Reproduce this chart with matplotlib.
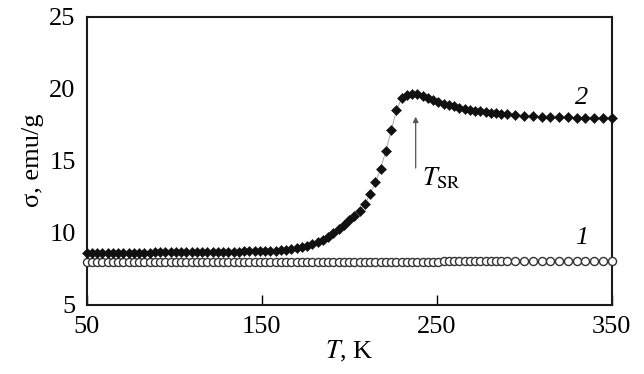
import numpy as np
import matplotlib
matplotlib.use('Agg')
import matplotlib.pyplot as plt

plt.rcParams['font.family'] = ['Liberation Serif', 'DejaVu Serif']
plt.rcParams['mathtext.fontset'] = 'stix'

### Dati
temp = [50, 53, 56, 59, 62, 65, 68, 71, 74, 77,
        80, 83, 86, 89, 92, 95, 98, 101, 104, 107,
        110, 113, 116, 119, 122, 125, 128, 131, 134, 137,
        140, 143, 146, 149, 152, 155, 158, 161, 164, 167,
        170, 173, 176, 179, 182, 185, 188, 191, 194, 197,
        200, 203, 206, 209, 212, 215, 218, 221, 224, 227,
        230, 233, 236, 239, 242, 245, 248, 251, 254, 257,
        260, 263, 266, 269, 272, 275, 278, 281, 284, 287,
        290, 295, 300, 305, 310, 315, 320, 325, 330, 335, 340, 345, 350]

# curva 2 (rombi pieni)
sigma2 = [8.58, 8.58, 8.59, 8.59, 8.60, 8.60, 8.60, 8.61, 8.61, 8.61,
          8.62, 8.62, 8.62, 8.63, 8.63, 8.63, 8.64, 8.64, 8.64, 8.65,
          8.65, 8.65, 8.66, 8.66, 8.66, 8.67, 8.67, 8.68, 8.68, 8.69,
          8.70, 8.70, 8.71, 8.72, 8.73, 8.74, 8.76, 8.78, 8.81, 8.86,
          8.92, 9.00, 9.10, 9.20, 9.33, 9.50, 9.72, 9.98, 10.25, 10.55,
          10.90, 11.15, 11.50, 12.00, 12.70, 13.50, 14.45, 15.70, 17.10, 18.50,
          19.35, 19.55, 19.65, 19.60, 19.48, 19.33, 19.20, 19.08, 18.97, 18.87,
          18.78, 18.69, 18.61, 18.54, 18.48, 18.43, 18.38, 18.34, 18.30, 18.26,
          18.22, 18.18, 18.13, 18.09, 18.06, 18.04, 18.02, 18.01, 18.00, 17.99, 17.98, 17.97, 17.96]

# curva 1 (cerchi vuoti)
sigma1 = [7.94, 7.94, 7.94, 7.94, 7.94, 7.94, 7.94, 7.94, 7.94, 7.94,
          7.94, 7.94, 7.94, 7.95, 7.95, 7.95, 7.95, 7.95, 7.95, 7.95,
          7.95, 7.95, 7.95, 7.95, 7.96, 7.96, 7.96, 7.96, 7.96, 7.96,
          7.96, 7.96, 7.96, 7.96, 7.97, 7.97, 7.97, 7.97, 7.97, 7.97,
          7.97, 7.97, 7.97, 7.98, 7.98, 7.98, 7.98, 7.98, 7.98, 7.98,
          7.98, 7.98, 7.99, 7.99, 7.99, 7.99, 7.99, 7.99, 7.99, 7.99,
          8.00, 8.00, 8.00, 8.00, 8.00, 8.00, 8.00, 8.00, 8.01, 8.01,
          8.01, 8.01, 8.01, 8.01, 8.01, 8.01, 8.02, 8.02, 8.02, 8.02,
          8.02, 8.02, 8.02, 8.02, 8.03, 8.03, 8.03, 8.03, 8.03, 8.03, 8.03, 8.03, 8.03]

xticks = [50, 150, 250, 350]
yticks = [5, 10, 15, 20, 25]

### Grafico
fig = plt.figure(figsize=(6.44, 3.74), dpi=100)
ax = fig.add_axes([0.1346, 0.1853, 0.8152, 0.77])

ax.plot(temp, sigma1, '-', color='#9a9a9a', lw=0.6, marker='o', ms=5.8,
        mfc='white', mec='#333333', mew=1.0, clip_on=False, zorder=3)
ax.plot(temp, sigma2, '-', color='#9a9a9a', lw=0.6, marker='D', ms=5.2,
        mfc='#111111', mec='#111111', mew=0.4, clip_on=False, zorder=4)

ax.set_xlim(50, 350)
ax.set_ylim(5, 25)
ax.set_xticks(xticks)
ax.set_yticks(yticks)
ax.tick_params(axis='x', direction='in', length=7, width=1.0, pad=8, labelsize=19)
ax.tick_params(axis='y', length=0, pad=8, labelsize=19)
for s in ax.spines.values():
    s.set_linewidth(1.5)
    s.set_color('#1a1a1a')

ax.set_xlabel('$T$, K', fontsize=19, labelpad=1)
ax.set_ylabel('σ, emu/g', fontsize=19, labelpad=4)

ax.text(333, 19.35, '2', fontsize=19, style='italic', ha='center', va='center')
ax.text(333, 9.65, '1', fontsize=19, style='italic', ha='center', va='center')

ax.annotate('', xy=(238, 18.25), xytext=(238, 14.3),
            arrowprops=dict(arrowstyle='-|>', color='#555555', lw=0.9,
                            mutation_scale=8))
ax.text(241.5, 13.8, r'$T_{\mathrm{SR}}$', fontsize=19, ha='left', va='center')

plt.savefig('out.png', dpi=100)
